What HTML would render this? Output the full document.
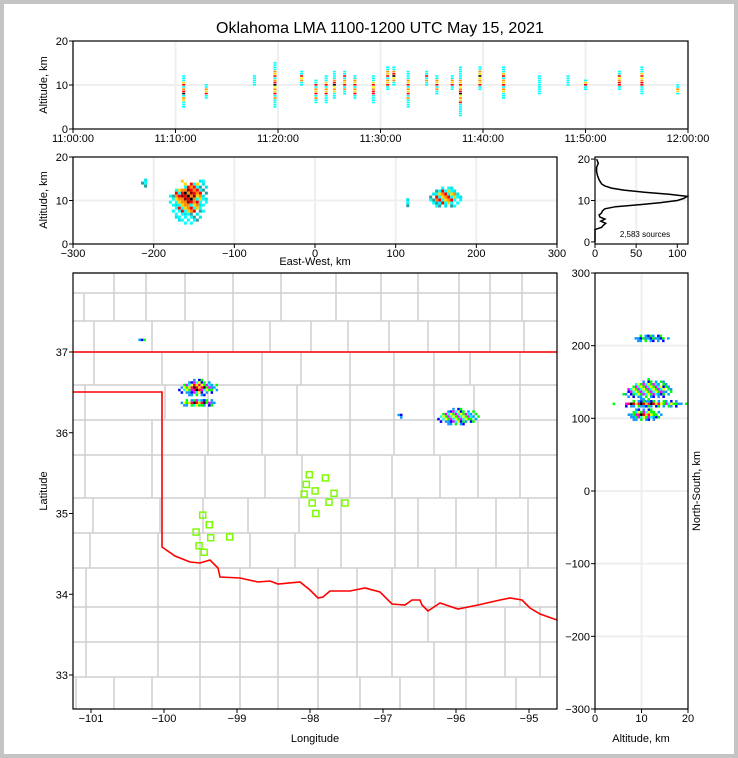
<!DOCTYPE html>
<html><head><meta charset="utf-8">
<style>
html,body{margin:0;padding:0;background:#fff}
svg{display:block;font-family:"Liberation Sans",sans-serif}
</style></head>
<body>
<svg id="chart" width="738" height="758" viewBox="0 0 738 758">
<rect x="0" y="0" width="738" height="758" fill="#c4c4c4"/>
<rect x="4" y="4" width="730" height="750" fill="#fff"/>
<text x="380" y="33" font-size="16" text-anchor="middle">Oklahoma LMA 1100-1200 UTC May 15, 2021</text>
<g id="g"></g>
</svg>
<script>
// ---------- DATA ----------
const timeTicks = ["11:00:00","11:10:00","11:20:00","11:30:00","11:40:00","11:50:00","12:00:00"];
const flashMin = [10.8,13,17.7,19.7,22.3,23.7,24.7,25.5,26.5,27.5,29.3,30.7,31.3,32.7,34.5,35.5,37,37.8,39.7,42,45.5,48.3,50,53.3,55.5,59];
const flashAltLo = [5,7,10,5,10,6,6,7,8,7,6,9,10,5,10,8,9,3,9,7,8,10,9,9,8,8];
const flashAltHi = [12,10,12,15,13,11,12,13,13,12,12,14,14,13,13,12,12,14,14,14,12,12,11,13,14,10];
const flashIntensity = [0.9,0.5,0.1,0.8,0.8,0.5,0.7,0.8,0.6,0.6,0.8,0.6,0.8,0.6,0.5,0.7,0.5,0.9,0.8,0.6,0.3,0.2,0.4,0.8,0.9,0.4];
const ewCenter = [-157,162,-210,115];
const ewSpread = [24,20,4,3];
const ewAlt = [11,10.8,14,9.5];
const ewAltSpread = [6.5,2.5,1.2,1];
const ewIntensity = [1,0.6,0.1,0.1];
const mapLon = [-99.55,-99.55,-96.0,-100.3,-96.75];
const mapLat = [36.56,36.37,36.2,37.15,36.22];
const mapLonSpread = [0.3,0.3,0.32,0.06,0.04];
const mapLatSpread = [0.1,0.05,0.1,0.03,0.04];
const mapIntensity = [0.8,1,0.6,0.1,0.1];
const nsY = [120,140,105,210];
const nsAlt = [10.5,11,10.5,12];
const nsYSpread = [5,14,9,5];
const nsAltSpread = [10,6,4,4];
const nsIntensity = [1,0.7,0.8,0.05];
const stLon = [-98.01,-97.79,-98.05,-97.93,-98.08,-97.67,-97.97,-97.74,-97.52,-97.92,-99.47,-99.38,-99.56,-99.36,-99.10,-99.52,-99.45];
const stLat = [35.48,35.44,35.36,35.28,35.24,35.25,35.13,35.14,35.13,35.00,34.98,34.86,34.77,34.70,34.71,34.60,34.52];
const histAlt = [0,3,3.5,4,4.5,5,5.5,6,6.5,7,7.5,8,8.5,9,9.5,10,10.5,11,11.5,12,12.5,13,13.5,14,15,16,17,18,19,20];
const histCount = [0,0,8,10,13,7,12,6,5,8,9,12,25,55,80,100,108,112,90,60,35,20,12,8,5,3,2,2,4,2];
const ewTicks = [-300,-200,-100,0,100,200,300];
const lonTicks = [-101,-100,-99,-98,-97,-96,-95];
const latTicks = [33,34,35,36,37];
const nsTicks = [-300,-200,-100,0,100,200,300];

const g = document.getElementById('g');
const NS='http://www.w3.org/2000/svg';
function el(tag,attrs,parent){const e=document.createElementNS(NS,tag);for(const k in attrs)e.setAttribute(k,attrs[k]);(parent||g).appendChild(e);return e;}
const lin=(d0,d1,r0,r1)=>v=>r0+(v-d0)/(d1-d0)*(r1-r0);
const tX=lin(0,60,73,688), tY=lin(0,20,129,41);
const eX=lin(-300,300,73,557), eY=lin(0,20,244,157);
const hX=lin(0,113,595,688), hY=lin(-0.5,20.5,244,157);
const mX=lin(-101,-95,91,529), mY=lin(37,33,352,675);
const rX=lin(0,20,595,688), rY=lin(-300,300,709,273);

function frame(x,y,w,h,name){const r=el('rect',{x,y,width:w,height:h,fill:'none',stroke:'#000','stroke-width':1.2});}
function gridV(x,y0,y1){const l=el('line',{x1:x,x2:x,y1:y0,y2:y1,stroke:'#efefef','stroke-width':2});}
function gridH(y,x0,x1){const l=el('line',{x1:x0,x2:x1,y1:y,y2:y,stroke:'#efefef','stroke-width':2});}
function txt(x,y,s,anchor,size,name,rot){const t=el('text',{x,y,'font-size':size||11,'text-anchor':anchor||'middle'});if(rot)t.setAttribute('transform',`rotate(${rot} ${x} ${y})`);t.textContent=s;return t;}
function tickL(x,y){el('line',{x1:x-4,x2:x,y1:y,y2:y,stroke:'#000'});}
function tickB(x,y){el('line',{x1:x,x2:x,y1:y,y2:y+4,stroke:'#000'});}

// ---------- TIME PANEL ----------
[0,10,20,30,40,50,60].forEach(m=>gridV(tX(m),41,129));
gridH(tY(10),73,688);
flashMin.forEach((m,i)=>{
  const x=tX(m);
  for(let a=flashAltLo[i];a<=flashAltHi[i];a+=0.5){
    const mid=(flashAltLo[i]+flashAltHi[i])/2, d=Math.abs(a-mid)/((flashAltHi[i]-flashAltLo[i])/2+0.01);
    const k=Math.round(a*2)%4;
    let c='#00ffff';
    if(d<0.6&&flashIntensity[i]>0.3) c=['#ff0000','#ffd700','#ff8c00','#00ffff'][k];
    if(d<0.25&&flashIntensity[i]>0.7) c=['#000','#ff0000','#ff8c00','#ffff00'][k];
    const r=el('rect',{x:x-1.5,y:tY(a)-1,width:3,height:1.6,fill:c});
    
    
  }
});
frame(73,41,615,88,'time-height-panel');
[0,10,20].forEach(v=>{tickL(73,tY(v));txt(68,tY(v)+4,String(v),'end',11,'time-y-tick');});
timeTicks.forEach((s,i)=>{tickB(tX(i*10),129);txt(tX(i*10),142,s,'middle',11,'time-x-tick');});
txt(47,85,'Altitude, km','middle',11,'time-y-axis-title',-90);

function cluster(cx,cy,rx,ry,inten,cell,palette,name){
  const nx=Math.max(1,Math.ceil(rx/cell)),ny=Math.max(1,Math.ceil(ry/cell));
  for(let i=-nx;i<=nx;i++)for(let j=-ny;j<=ny;j++){
    const d=Math.sqrt((i*cell/Math.max(rx,1))**2+(j*cell/Math.max(ry,1))**2);
    if(d>1)continue;
    if(((i*7+j*13+49)%5)<(d>0.7?2:0))continue;
    const k=((i*3+j*5)%4+4)%4;
    let c=palette.outer[k%palette.outer.length];
    if(d<0.65&&inten>0.3)c=palette.mid[k];
    if(d<0.35&&inten>0.7)c=palette.core[k];
    const r=el('rect',{x:cx+i*cell-cell/2,y:cy+j*cell-cell/2,width:cell,height:cell,fill:c});
    
    
  }
}
const palEW={outer:['#00ffff','#2a9d9d','#00ffff','#00e5e5'],mid:['#ff8c00','#ffd700','#00ffff','#ff0000'],core:['#000','#ff0000','#8b0000','#ff8c00']};
const palMap={outer:['#0000ff','#00a0ff','#1e90ff','#00ff00'],mid:['#00ff00','#ffff00','#00ffff','#ff00ff'],core:['#ff0000','#000','#ff0066','#ffd700']};

// ---------- EAST-WEST PANEL ----------
ewTicks.forEach(v=>gridV(eX(v),157,244));
gridH(eY(10),73,557);
ewCenter.forEach((c,i)=>cluster(eX(c),eY(ewAlt[i]),(eX(ewSpread[i])-eX(0)),(eY(0)-eY(ewAltSpread[i])),ewIntensity[i],3,palEW,'ew-source'));
frame(73,157,484,87,'east-west-panel');
[0,10,20].forEach(v=>{tickL(73,eY(v));txt(68,eY(v)+4,String(v),'end',11,'ew-y-tick');});
ewTicks.forEach(v=>{tickB(eX(v),244);txt(eX(v),257,v<0?'\u2212'+(-v):String(v),'middle',11,'ew-x-tick');});
txt(47,200,'Altitude, km','middle',11,'ew-y-axis-title',-90);
txt(315,265,'East-West, km','middle',11,'ew-x-axis-title');

// ---------- HISTOGRAM ----------
gridV(hX(50),157,244);gridH(hY(10),595,688);
const hp=histAlt.map((a,i)=>`${hX(histCount[i]).toFixed(1)},${hY(a).toFixed(1)}`).join(' ');
const hl=el('polyline',{points:hp,fill:'none',stroke:'#000','stroke-width':1.5});


frame(595,157,93,87,'histogram-panel');
[0,10,20].forEach(v=>{tickL(595,hY(v));txt(590,hY(v)+4,String(v),'end',11,'hist-y-tick');});
[0,50,100].forEach(v=>{tickB(hX(v),244);txt(hX(v),257,String(v),'middle',11,'hist-x-tick');});
txt(645,237,'2,583 sources','middle',8,'source-count-label');

// ---------- MAP ----------
const mapG=el('g',{});


const rows=[273,293,321,352,385,420,455,498,533,568,607,642,677,709];
const cols=[[114,146,185,233,281,336,381,418,459,490,522],[84,114,146,185,233,281,336,381,418,459,490,522],[94,152,193,233,270,311,348,389,428,459,490,524],[94,162,208,262,301,350,394,434,470,520],[85,165,208,262,297,350,394,434,474,520],[85,152,208,262,297,350,394,434,478,520],[85,152,205,265,302,350,392,440,478,520],[93,160,203,248,299,341,395,418,456,496,528],[90,158,200,250,295,341,395,418,456,496,528],[86,158,200,240,278,318,357,392,435,478,520],[86,158,200,240,278,318,357,392,428,466,505,540],[86,158,200,240,278,318,357,392,434,466,505,540],[76,114,152,200,240,278,318,360,400,434,466,516]];
for(let r=0;r<rows.length-1;r++){
  el('line',{x1:73,x2:557,y1:rows[r],y2:rows[r],stroke:'#cfcfcf','stroke-width':1.5},mapG);
  cols[r].forEach(x=>el('line',{x1:x,x2:x,y1:rows[r],y2:rows[r+1],stroke:'#cfcfcf','stroke-width':1.5},mapG));
}
const bd=el('polyline',{points:'73,392 162,392 162,547 175,556 190,562 200,563 210,560 218,568 220,577 240,578 258,582 270,581 278,584 300,582 310,590 318,598 323,597 330,591 350,591 365,588 380,592 392,604 405,605 412,600 420,600 422,605 428,611 440,603 458,609 478,605 500,600 510,598 522,600 530,608 540,614 557,620',fill:'none',stroke:'#ff0000','stroke-width':1.6});


const bt=el('line',{x1:73,x2:557,y1:352,y2:352,stroke:'#ff0000','stroke-width':1.6});


mapLon.forEach((lo,i)=>cluster(mX(lo),mY(mapLat[i]),mX(lo+mapLonSpread[i])-mX(lo),mY(mapLat[i]-mapLatSpread[i])-mY(mapLat[i]),mapIntensity[i],2.5,palMap,'map-source'));
stLon.forEach((lo,i)=>{
  const r=el('rect',{x:mX(lo)-3,y:mY(stLat[i])-3,width:6,height:6,fill:'none',stroke:'#7cfc00','stroke-width':1.5});
  
  
});
frame(73,273,484,436,'map-panel');
latTicks.forEach(v=>{tickL(73,mY(v));txt(68,mY(v)+4,String(v),'end',11,'lat-tick');});
lonTicks.forEach(v=>{tickB(mX(v),709);txt(mX(v),722,'\u2212'+(-v),'middle',11,'lon-tick');});
txt(47,491,'Latitude','middle',11,'lat-axis-title',-90);
txt(315,742,'Longitude','middle',11,'lon-axis-title');

// ---------- NS PANEL ----------
gridV(rX(10),273,709);
nsTicks.forEach(v=>gridH(rY(v),595,688));
nsY.forEach((y,i)=>cluster(rX(nsAlt[i]),rY(y),rX(nsAltSpread[i])-rX(0),rY(0)-rY(nsYSpread[i]),nsIntensity[i],2.5,palMap,'ns-source'));
frame(595,273,93,436,'north-south-panel');
nsTicks.forEach(v=>{tickL(595,rY(v));txt(590,rY(v)+4,v<0?'\u2212'+(-v):String(v),'end',11,'ns-y-tick');});
[0,10,20].forEach(v=>{tickB(rX(v),709);txt(rX(v),722,String(v),'middle',11,'ns-x-tick');});
txt(700,491,'North-South, km','middle',11,'ns-axis-title',-90);
txt(641,742,'Altitude, km','middle',11,'ns-x-axis-title');
</script>
</body></html>
